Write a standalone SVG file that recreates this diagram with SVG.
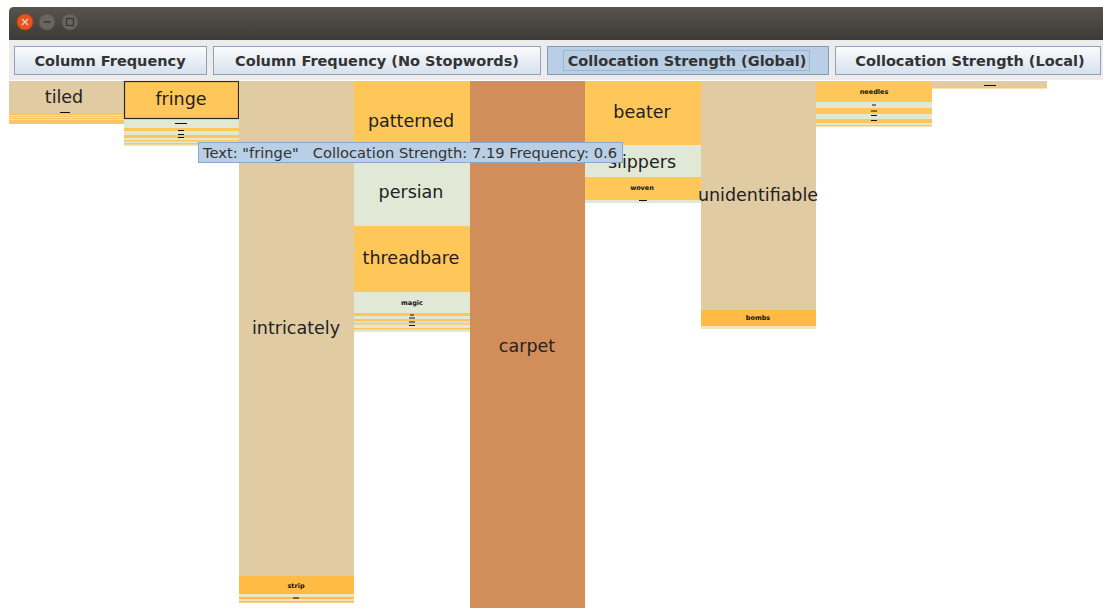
<svg xmlns="http://www.w3.org/2000/svg" width="1103" height="608" viewBox="0 0 1103 608">
  <defs>
    <linearGradient id="titleGrad" x1="0" y1="0" x2="0" y2="1">
      <stop offset="0" stop-color="#57544d"/>
      <stop offset="1" stop-color="#3b3a36"/>
    </linearGradient>
    <linearGradient id="btnGrad" x1="0" y1="0" x2="0" y2="1">
      <stop offset="0" stop-color="#fbfcfd"/>
      <stop offset="1" stop-color="#d6e1ec"/>
    </linearGradient>
    <style>
      .btn { fill: url(#btnGrad); stroke: #8fa3b8; stroke-width: 1; }
      .btn-sel { fill: #b8cfe5; stroke: #7f9bb8; stroke-width: 1; }
      .btn-text { font-family: "DejaVu Sans", sans-serif; font-weight: bold; font-size: 14.5px; fill: #333333; text-anchor: middle; }
      .tan { fill: #e0cba3; }
      .org { fill: #ffc65a; }
      .org2 { fill: #ffbb44; }
      .grn { fill: #e1e8d5; }
      .crp { fill: #d28e5a; }
      .lt { fill: #f3e3c4; }
      .word { font-family: "DejaVu Sans", sans-serif; font-size: 17.5px; fill: #222222; text-anchor: middle; }
      .tiny { font-family: "DejaVu Sans", sans-serif; font-weight: bold; font-size: 6.5px; fill: #111111; text-anchor: middle; }
      .mark { stroke: #111111; stroke-width: 1; }
    </style>
  </defs>

  <rect x="0" y="0" width="1103" height="608" fill="#ffffff"/>

  <!-- window title bar -->
  <g id="titlebar">
    <path d="M9 12 Q9 7 14 7 H1103 V40 H9 Z" fill="url(#titleGrad)"/>
    <circle cx="25" cy="22" r="8" fill="#e8531f" stroke="#b8401a" stroke-width="1"/>
    <path d="M22 19 L28 25 M28 19 L22 25" stroke="#f6d3c5" stroke-width="1.4"/>
    <circle cx="47" cy="22" r="8" fill="#68665f" stroke="#55534d" stroke-width="1"/>
    <path d="M43.5 22 H50.5" stroke="#3b3a36" stroke-width="1.6"/>
    <circle cx="70" cy="22" r="8" fill="#68665f" stroke="#55534d" stroke-width="1"/>
    <rect x="66.5" y="18.5" width="7" height="7" fill="none" stroke="#3b3a36" stroke-width="1.4"/>
  </g>

  <!-- toolbar with mode buttons -->
  <g id="toolbar">
    <rect x="9" y="40" width="1094" height="40" fill="#ececec"/>
    <g id="btn-colfreq">
      <rect class="btn" x="14.5" y="46.5" width="192" height="28"/>
      <text class="btn-text" x="110" y="66">Column Frequency</text>
    </g>
    <g id="btn-colfreq-nostop">
      <rect class="btn" x="213.5" y="46.5" width="327" height="28"/>
      <text class="btn-text" x="377" y="66">Column Frequency (No Stopwords)</text>
    </g>
    <g id="btn-colloc-global">
      <rect class="btn-sel" x="547.5" y="46.5" width="281" height="28"/>
      <rect x="563.5" y="50.5" width="246" height="20" fill="none" stroke="#9db5cf" stroke-width="1"/>
      <text class="btn-text" x="687" y="66">Collocation Strength (Global)</text>
    </g>
    <g id="btn-colloc-local">
      <rect class="btn" x="835.5" y="46.5" width="265" height="28"/>
      <text class="btn-text" x="970" y="66">Collocation Strength (Local)</text>
    </g>
  </g>

  <!-- column 1: tiled -->
  <g id="col-tiled">
    <rect class="tan" x="9" y="81" width="115" height="32"/>
    <rect fill="#fcc462" x="9" y="113" width="115" height="11"/>
    <rect fill="#f6dcae" x="9" y="115" width="115" height="1"/>
    <rect fill="#f6dcae" x="9" y="117" width="115" height="1"/>
    <rect fill="#f6dcae" x="9" y="119" width="115" height="1"/>
    <text class="word" x="64" y="103">tiled</text>
    <line class="mark" x1="60" y1="112.5" x2="70" y2="112.5"/>
  </g>

  <!-- column 2: fringe (highlighted) -->
  <g id="col-fringe">
    <rect class="grn" x="124" y="119" width="115" height="27"/>
    <rect class="org" x="124" y="128" width="115" height="3"/>
    <rect class="org" x="124" y="135" width="115" height="3"/>
    <rect class="org" x="124" y="140" width="115" height="1.5"/>
    <rect class="org" x="124" y="143" width="115" height="1.5"/>
    <rect class="org" x="124.5" y="81.5" width="114" height="37" stroke="#2a2a2a" stroke-width="1.2"/>
    <text class="word" x="181" y="105">fringe</text>
    <line class="mark" x1="175" y1="123.5" x2="187" y2="123.5"/>
    <line class="mark" x1="178" y1="130.5" x2="184" y2="130.5"/>
    <line class="mark" x1="178" y1="134.5" x2="184" y2="134.5"/>
    <line class="mark" x1="178" y1="137.5" x2="184" y2="137.5"/>
  </g>

  <!-- column 3: intricately -->
  <g id="col-intricately">
    <rect class="tan" x="239" y="81" width="115" height="495"/>
    <rect class="org2" x="239" y="576" width="115" height="18"/>
    <rect class="lt" x="239" y="594" width="115" height="9"/>
    <rect class="org2" x="239" y="597" width="115" height="2"/>
    <rect class="org2" x="239" y="601" width="115" height="1.5"/>
    <text class="word" x="296" y="334">intricately</text>
    <text class="tiny" x="296" y="588">strip</text>
    <line class="mark" x1="293" y1="598" x2="299" y2="598"/>
  </g>

  <!-- column 4: patterned / persian / threadbare / magic -->
  <g id="col-patterned">
    <rect class="org" x="354" y="81" width="116" height="80"/>
    <rect class="grn" x="354" y="161" width="116" height="65"/>
    <rect class="org" x="354" y="226" width="116" height="66"/>
    <rect class="grn" x="354" y="292" width="116" height="40"/>
    <rect class="org" x="354" y="313" width="116" height="3"/>
    <rect class="org" x="354" y="319" width="116" height="2.5"/>
    <rect class="org" x="354" y="323" width="116" height="1.5"/>
    <rect class="org" x="354" y="328" width="116" height="1.5"/>
    <text class="word" x="411" y="127">patterned</text>
    <text class="word" x="411" y="198">persian</text>
    <text class="word" x="411" y="264">threadbare</text>
    <text class="tiny" x="412" y="305">magic</text>
    <line class="mark" x1="410" y1="315" x2="414" y2="315"/>
    <line class="mark" x1="409" y1="318" x2="415" y2="318"/>
    <line class="mark" x1="409" y1="322" x2="415" y2="322"/>
    <line class="mark" x1="409" y1="325.5" x2="415" y2="325.5"/>
  </g>

  <!-- column 5: carpet -->
  <g id="col-carpet">
    <rect class="crp" x="470" y="81" width="115" height="527"/>
    <text class="word" x="527" y="352">carpet</text>
  </g>

  <!-- column 6: beater / slippers / woven -->
  <g id="col-beater">
    <rect class="org" x="585" y="81" width="116" height="64"/>
    <rect class="grn" x="585" y="145" width="116" height="32"/>
    <rect class="org" x="585" y="177" width="116" height="23"/>
    <rect class="grn" x="585" y="200" width="116" height="3"/>
    <text class="word" x="642" y="118">beater</text>
    <text class="word" x="642" y="168">slippers</text>
    <text class="tiny" x="642" y="190">woven</text>
    <line class="mark" x1="639" y1="200.5" x2="647" y2="200.5"/>
  </g>

  <!-- column 7: unidentifiable / bombs -->
  <g id="col-unidentifiable">
    <rect class="tan" x="701" y="81" width="115" height="229"/>
    <rect class="org2" x="701" y="310" width="115" height="16"/>
    <rect class="lt" x="701" y="326" width="115" height="3"/>
    <text class="word" x="758" y="201">unidentifiable</text>
    <text class="tiny" x="758" y="320">bombs</text>
  </g>

  <!-- column 8: needles -->
  <g id="col-needles">
    <rect class="org" x="816" y="81" width="116" height="21"/>
    <rect class="grn" x="816" y="102" width="116" height="6"/>
    <rect class="org" x="816" y="108" width="116" height="6"/>
    <rect class="grn" x="816" y="114" width="116" height="5"/>
    <rect class="org" x="816" y="119" width="116" height="4"/>
    <rect class="grn" x="816" y="123" width="116" height="2"/>
    <rect class="org" x="816" y="125" width="116" height="1.5"/>
    <text class="tiny" x="874" y="94">needles</text>
    <line class="mark" x1="872" y1="105" x2="876" y2="105"/>
    <line class="mark" x1="871" y1="111" x2="877" y2="111"/>
    <line class="mark" x1="871" y1="115.5" x2="877" y2="115.5"/>
    <line class="mark" x1="871" y1="120.5" x2="877" y2="120.5"/>
  </g>

  <!-- column 9: short tail -->
  <g id="col-tail">
    <rect class="tan" x="932" y="81" width="115" height="6"/>
    <rect class="org" x="932" y="87" width="115" height="1.5"/>
    <line class="mark" x1="984" y1="85.5" x2="996" y2="85.5"/>
  </g>

  <!-- hover tooltip -->
  <g id="tooltip">
    <rect x="198.5" y="142.5" width="424" height="20" fill="#b8cfe5" stroke="#8aa6c8" stroke-width="1"/>
    <text x="203" y="158" font-family="DejaVu Sans, sans-serif" font-size="14.5" fill="#333333" textLength="414" lengthAdjust="spacingAndGlyphs" xml:space="preserve">Text: "fringe"   Collocation Strength: 7.19 Frequency: 0.6</text>
  </g>
</svg>
